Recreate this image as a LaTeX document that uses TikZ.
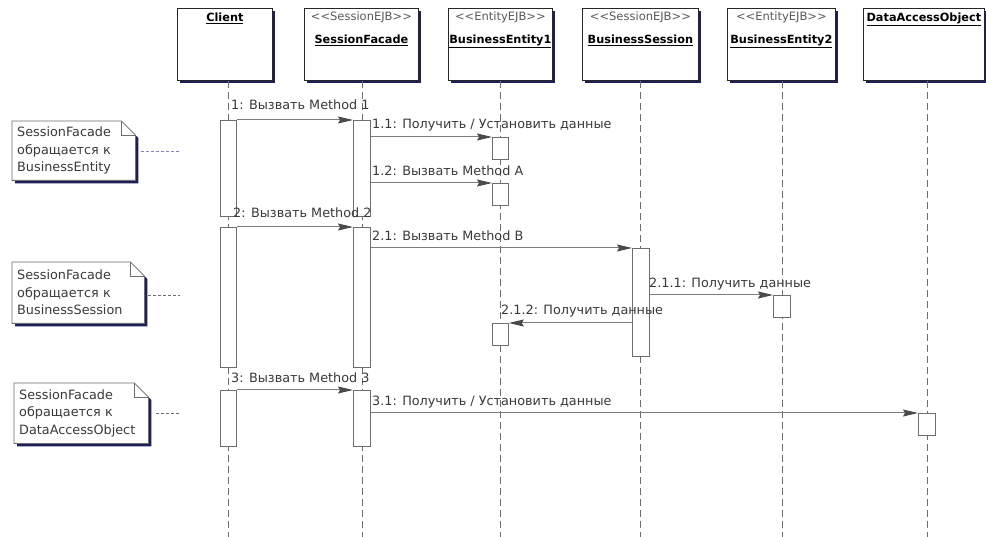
\documentclass[tikz,border=0pt]{standalone}
\usepackage{fontspec}
\setmainfont{DejaVu Sans}
\usetikzlibrary{arrows.meta,shadows,backgrounds}
\definecolor{shadowc}{HTML}{1E1E5A}
\definecolor{linec}{HTML}{6E6E6E}
\definecolor{msgc}{HTML}{7C7C7C}
\definecolor{tipc}{HTML}{4A4A4A}
\definecolor{notelink}{HTML}{8A7FC0}
\definecolor{txtc}{HTML}{3A3A3A}
\begin{document}
\begin{tikzpicture}[x=1pt,y=-1pt,
  objbox/.style={draw=black!85,fill=white,line width=0.8pt,minimum height=72pt,inner sep=0pt,anchor=north west,
    drop shadow={shadow xshift=3pt,shadow yshift=-3pt,fill=shadowc,opacity=1}},
  hname/.style={anchor=north,inner sep=0pt,font=\fontsize{11.3}{13}\selectfont\bfseries},
  stereo/.style={anchor=north,inner sep=0pt,text=black!65,font=\fontsize{11.5}{13}\selectfont},
  life/.style={draw=linec,line width=0.8pt,dash pattern=on 7pt off 4pt},
  act/.style={draw=linec,fill=white,line width=0.8pt,inner sep=0pt,anchor=north west},
  msg/.style={draw=msgc,line width=1pt,-{Stealth[length=15pt,width=7pt,inset=2pt,fill=tipc,color=tipc]}},
  lbl/.style={anchor=base west,inner sep=0pt,text=txtc,font=\fontsize{12.8}{14}\selectfont},
  notetext/.style={anchor=north west,inner xsep=5pt,inner ysep=0pt,align=left,text=txtc,font=\fontsize{12.8}{17.5}\selectfont},
  noteline/.style={draw=linec,line width=0.8pt,fill=white},
  notelinkst/.style={draw=linec,line width=0.8pt,dash pattern=on 3pt off 2pt}
]
\useasboundingbox (0,0) rectangle (986,537);
\begin{pgfonlayer}{background}
\fill[white] (0,0) rectangle (986,537);
\end{pgfonlayer}

% object headers
\node[objbox,minimum width=95pt] (client) at (177,8) {};
\node[objbox,minimum width=114pt] (sf) at (304,8) {};
\node[objbox,minimum width=104pt] (be1) at (448,8) {};
\node[objbox,minimum width=116pt] (bs) at (582,8) {};
\node[objbox,minimum width=108pt] (be2) at (727,8) {};
\node[objbox,minimum width=121pt] (dao) at (863,8) {};

\node[hname] at ([yshift=-5pt]client.north) {\underline{Client}};
\node[stereo] at ([yshift=-4pt]sf.north) {{<}{<}SessionEJB{>}{>}};
\node[hname] at ([yshift=-27pt]sf.north) {\underline{SessionFacade}};
\node[stereo] at ([yshift=-4pt]be1.north) {{<}{<}EntityEJB{>}{>}};
\node[hname] at ([yshift=-27pt]be1.north) {\underline{BusinessEntity1}};
\node[stereo] at ([yshift=-4pt]bs.north) {{<}{<}SessionEJB{>}{>}};
\node[hname] at ([yshift=-27pt]bs.north) {\underline{BusinessSession}};
\node[stereo] at ([yshift=-4pt]be2.north) {{<}{<}EntityEJB{>}{>}};
\node[hname] at ([yshift=-27pt]be2.north) {\underline{BusinessEntity2}};
\node[hname] at ([yshift=-5pt]dao.north) {\underline{DataAccessObject}};

% lifelines
\coordinate (clE) at (228,537);
\coordinate (sfE) at (362,537);
\coordinate (be1E) at (500,537);
\coordinate (bsE) at (640,537);
\coordinate (be2E) at (782,537);
\coordinate (daoE) at (927,537);
\draw[life] (client.south -| clE) -- (clE);
\draw[life] (sf.south -| sfE) -- (sfE);
\draw[life] (be1.south -| be1E) -- (be1E);
\draw[life] (bs.south -| bsE) -- (bsE);
\draw[life] (be2.south -| be2E) -- (be2E);
\draw[life] (dao.south -| daoE) -- (daoE);

% activations
\node[act,minimum width=16pt,minimum height=96pt] (ca1) at (220,120) {};
\node[act,minimum width=16pt,minimum height=140pt] (ca2) at (220,227) {};
\node[act,minimum width=16pt,minimum height=56pt] (ca3) at (220,390) {};
\node[act,minimum width=17pt,minimum height=96pt] (sa1) at (353,120) {};
\node[act,minimum width=17pt,minimum height=140pt] (sa2) at (353,227) {};
\node[act,minimum width=17pt,minimum height=56pt] (sa3) at (353,390) {};
\node[act,minimum width=16pt,minimum height=22pt] (ea1) at (492,137) {};
\node[act,minimum width=16pt,minimum height=22pt] (ea2) at (492,183) {};
\node[act,minimum width=16pt,minimum height=22pt] (ea3) at (492,323) {};
\node[act,minimum width=17pt,minimum height=108pt] (ba1) at (632,248) {};
\node[act,minimum width=17pt,minimum height=22pt] (fa1) at (773,295) {};
\node[act,minimum width=17pt,minimum height=22pt] (da1) at (918,413) {};

% messages
\draw[msg] (ca1.north east) -- (sa1.north west);
\draw[msg] (sa1.east |- ea1.north) -- (ea1.north west);
\draw[msg] (sa1.east |- ea2.north) -- (ea2.north west);
\draw[msg] (ca2.north east) -- (sa2.north west);
\draw[msg] (sa2.east |- ba1.north) -- (ba1.north west);
\draw[msg] (ba1.east |- fa1.north) -- (fa1.north west);
\draw[msg] (ba1.west |- ea3.north) -- (ea3.north east);
\draw[msg] (ca3.north east) -- (sa3.north west);
\draw[msg] (sa3.east |- da1.north) -- (da1.north west);

% message labels
\node[lbl] (l1) at (231,110) {1: Вызвать Method 1};
\node[lbl] (l11) at (372,129) {1.1: Получить / Установить данные};
\node[lbl] (l12) at (372,176) {1.2: Вызвать Method A};
\node[lbl] (l2) at (233,218) {2: Вызвать Method 2};
\node[lbl] (l21) at (372,241) {2.1: Вызвать Method B};
\node[lbl] (l211) at (649,288) {2.1.1: Получить данные};
\node[lbl] (l212) at (501,315) {2.1.2: Получить данные};
\node[lbl] (l3) at (231,383) {3: Вызвать Method 3};
\node[lbl] (l31) at (372,406) {3.1: Получить / Установить данные};

% notes
\node[notetext,text width=113pt,minimum height=59pt] (n1) at (12,121) {SessionFacade\\обращается к\\BusinessEntity};
\node[notetext,text width=122pt,minimum height=61pt] (n2) at (12,262) {SessionFacade\\обращается к\\BusinessSession};
\node[notetext,text width=124pt,minimum height=60pt] (n3) at (14,383) {SessionFacade\\обращается к\\DataAccessObject};
\begin{pgfonlayer}{background}
\foreach \n in {n1,n2,n3}{
  \fill[shadowc] ([xshift=3pt,yshift=-3pt]\n.north west) -- ([xshift=-11pt,yshift=-3pt]\n.north east)
     -- ([xshift=3pt,yshift=-17pt]\n.north east) -- ([xshift=3pt,yshift=-3pt]\n.south east)
     -- ([xshift=3pt,yshift=-3pt]\n.south west) -- cycle;
  \path[noteline] (\n.north west) -- ([xshift=-14pt]\n.north east) -- ([yshift=-14pt]\n.north east)
     -- (\n.south east) -- (\n.south west) -- cycle;
  \draw[linec,line width=0.8pt] ([xshift=-14pt]\n.north east) -- ([xshift=-14pt,yshift=-14pt]\n.north east) -- ([yshift=-14pt]\n.north east);
}
\end{pgfonlayer}
\coordinate (k1) at (180,151);
\coordinate (k2) at (180,295);
\coordinate (k3) at (180,413);
\draw[notelinkst,draw=notelink] ([xshift=6pt]n1.east |- k1) -- (k1);
\draw[notelinkst] ([xshift=4pt]n2.east |- k2) -- (k2);
\draw[notelinkst] ([xshift=8pt]n3.east |- k3) -- (k3);
\end{tikzpicture}
\end{document}
